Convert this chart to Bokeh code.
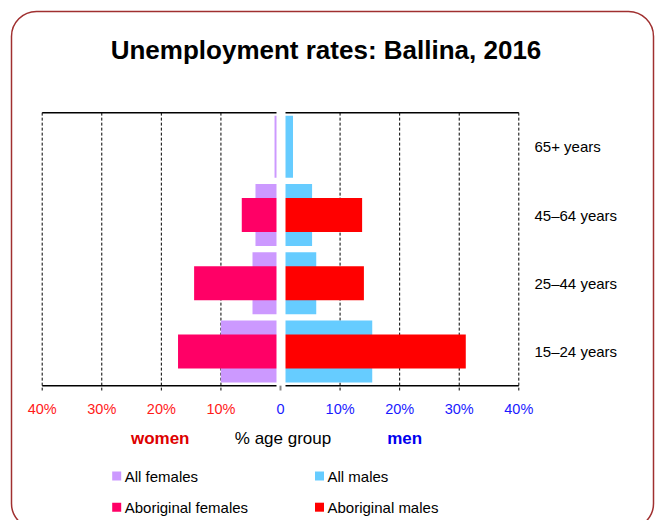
from bokeh.plotting import figure
from bokeh.models import Range1d, BoxAnnotation
from bokeh.core.properties import value
from bokeh.embed import file_html
from bokeh.resources import INLINE

# ---------------- data ----------------
groups = ["15–24 years", "25–44 years", "45–64 years", "65+ years"]
all_females = [10.0, 4.7, 4.2, 1.0]
aboriginal_females = [17.2, 14.5, 6.5, 0.0]
all_males = [15.4, 6.0, 5.3, 2.1]
aboriginal_males = [31.1, 14.0, 13.7, 0.0]

tick_values = [-40, -30, -20, -10, 0, 10, 20, 30, 40]
tick_labels = ["40%", "30%", "20%", "10%", "0", "10%", "20%", "30%", "40%"]

series_names = ["All females", "All males", "Aboriginal females", "Aboriginal males"]
series_colors = ["#CC99FF", "#66CCFF", "#FF0066", "#FF0000"]

title_text = "Unemployment rates: Ballina, 2016"

# ---------------- layout helpers ----------------
W, H = 658, 520
OFF = 0                      # observed page offset of the canvas
ZERO_PX = 280.0              # page x of 0 %
PX_PER_PCT = 5.9575
Y0_PX = 351.0                # page y of first category centre
PX_PER_CAT = 68.25
FONT = value("Liberation Sans")


def dx(px):
    return (px - ZERO_PX) / PX_PER_PCT


def dy(py):
    return (Y0_PX - py) / PX_PER_CAT


p = figure(width=W, height=H, output_backend="svg", toolbar_location=None,
           x_range=Range1d(dx(OFF), dx(OFF + W)), y_range=Range1d(dy(OFF + H), dy(OFF)),
           x_axis_location=None, y_axis_location=None, min_border=0)
p.grid.visible = False
p.outline_line_color = None
p.background_fill_color = "white"
p.border_fill_color = "white"

ys = list(range(len(groups)))
y_top = len(groups) - 0.5
y_bot = -0.5
tick_bottom = dy(390)

# gridlines (dashed) with tick extension
grid_x = [t for t in tick_values if t != 0]
p.segment(x0=grid_x, x1=grid_x, y0=[y_top] * len(grid_x), y1=[tick_bottom] * len(grid_x),
          line_color="black", line_width=1, line_dash="3 2")

# bars
p.hbar(y=ys, left=[-v for v in all_females], right=0, height=0.908,
       fill_color=series_colors[0], line_color=None)
p.hbar(y=ys, left=0, right=all_males, height=0.908,
       fill_color=series_colors[1], line_color=None)
p.hbar(y=ys, left=[-v for v in aboriginal_females], right=0, height=0.495,
       fill_color=series_colors[2], line_color=None)
p.hbar(y=ys, left=0, right=aboriginal_males, height=0.495,
       fill_color=series_colors[3], line_color=None)

# top and bottom frame lines
p.segment(x0=[tick_values[0]] * 2, x1=[tick_values[-1]] * 2, y0=[y_top, y_bot], y1=[y_top, y_bot],
          line_color="black", line_width=1.5)

# white centre band separating women / men
p.quad(left=dx(276), right=dx(285), bottom=dy(392), top=dy(108),
       fill_color="white", line_color=None)
# zero tick
p.segment(x0=[0], x1=[0], y0=[y_bot], y1=[tick_bottom], line_color="#888888", line_width=2)

# tick labels
tick_colors = ["#FF1a1a" if t < 0 else "#1a1aFF" for t in tick_values]
p.text(x=tick_values, y=[dy(408)] * len(tick_values), text=tick_labels,
       text_color=tick_colors, text_align="center", text_baseline="middle",
       text_font=FONT, text_font_size="14.5px")

# category labels
p.text(x=[dx(534)] * len(groups), y=ys, text=groups, text_color="black",
       text_align="left", text_baseline="middle", text_font=FONT, text_font_size="15px")

# axis titles
p.text(x=[dx(159.7)], y=[dy(438)], text=["women"], text_color="#DD0000",
       text_font_style="bold", text_align="center", text_baseline="middle",
       text_font=FONT, text_font_size="17px")
p.text(x=[dx(282.5)], y=[dy(438)], text=["% age group"], text_color="black",
       text_align="center", text_baseline="middle", text_font=FONT, text_font_size="17px")
p.text(x=[dx(404.2)], y=[dy(438)], text=["men"], text_color="#0000EE",
       text_font_style="bold", text_align="center", text_baseline="middle",
       text_font=FONT, text_font_size="17px")

# legend (2 x 2)
col_px = [116.2, 319.0, 116.2, 319.0]
row_px = [475.5, 475.5, 506.7, 506.7]
p.scatter(x=[dx(c) for c in col_px], y=[dy(r) for r in row_px], marker="square", size=9,
          fill_color=series_colors, line_color=None)
p.text(x=[dx(c + 8) for c in col_px], y=[dy(r) for r in row_px], text=series_names,
       text_color="black", text_align="left", text_baseline="middle",
       text_font=FONT, text_font_size="15px")

# title
p.text(x=[dx(325.5)], y=[dy(49.3)], text=[title_text], text_color="black",
       text_font_style="bold", text_align="center", text_baseline="alphabetic",
       text_font=FONT, text_font_size="26px")

# rounded outer frame
frame = BoxAnnotation(left=dx(11), right=dx(653), top=dy(11), bottom=dy(528),
                      fill_color=None, fill_alpha=0, line_color="#A03030", line_alpha=1.0,
                      line_width=1.5, border_radius=25)
p.add_layout(frame)

open("out.html", "w").write(file_html(p, INLINE))
